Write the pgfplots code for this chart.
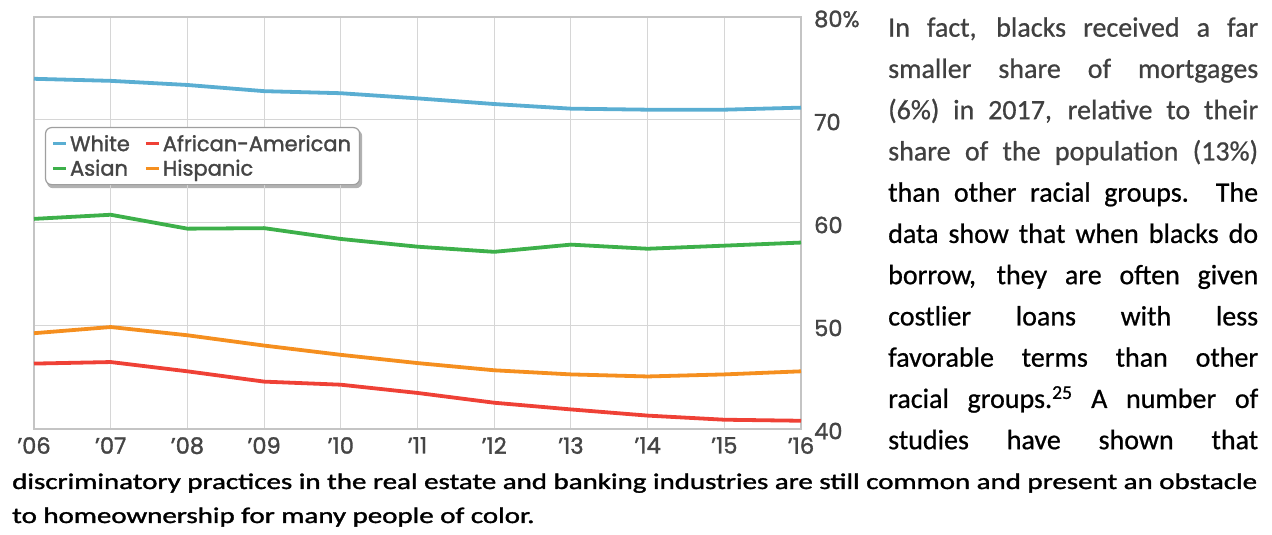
\documentclass[border=0pt]{standalone}
\usepackage{fontspec}
\setmainfont{Carlito}[FakeBold=0.7]
\newfontfamily\bottomfont{Carlito}[FakeBold=1.3]
\newfontfamily\chartfont{Poppins}[FakeBold=1.5]
\usepackage{graphicx}
\usepackage{pgfplots}
\pgfplotsset{compat=1.18}
\pgfdeclarelayer{background}
\pgfsetlayers{background,main}
\definecolor{cWhite}{HTML}{5AAED2}
\definecolor{cAA}{HTML}{EF4136}
\definecolor{cAsian}{HTML}{3DB04A}
\definecolor{cHisp}{HTML}{F58F1F}
\definecolor{gridc}{HTML}{D6D6D6}
\definecolor{framec}{HTML}{C4C4C4}
\definecolor{tickc}{HTML}{454545}
\definecolor{textgrey}{HTML}{404040}

\newsavebox\bottomA
\newdimen\tmpd
\newcommand\colline[3]{\node[anchor=base west, inner sep=0pt, text=#2] at (888pt,#1pt) {\fontsize{28}{28}\selectfont\makebox[370pt][s]{#3}};}

\begin{document}
\sbox\bottomA{\bottomfont\fontsize{28}{28}\selectfont discriminatory practices in the real estate and banking industries are still common and present an obstacle}%
\tmpd=\wd\bottomA
\pgfmathsetmacro\sx{1245/\tmpd}%
\begin{tikzpicture}
\useasboundingbox (0,0) rectangle (1272pt,535pt);
\begin{axis}[
  at={(34pt,106pt)}, anchor=south west,
  scale only axis, width=767pt, height=412pt,
  xmin=2006, xmax=2016, ymin=40, ymax=80,
  xtick={2006,2007,2008,2009,2010,2011,2012,2013,2014,2015,2016},
  xticklabels={’06,’07,’08,’09,’10,’11,’12,’13,’14,’15,’16},
  ytick={40,50,60,70,80},
  yticklabels={40,50,60,70,80\%},
  yticklabel pos=right,
  major tick length=0pt,
  grid=major,
  grid style={draw=gridc, line width=1pt},
  axis line style={draw=framec, line width=1.2pt},
  /pgf/number format/assume math mode=true,
  ticklabel style={font=\chartfont\fontsize{22.5}{22.5}\selectfont, text=tickc},
  yticklabel style={anchor=west, inner sep=0pt, xshift=13pt, yshift=-2pt},
  xticklabel style={anchor=north, inner sep=0pt, yshift=-8pt},
  legend columns=2,
  legend cell align=left,
  legend image code/.code={\draw[line width=3pt] (0pt,0pt) -- (13pt,0pt);},
  legend style={name=leg, at={(0.0143,0.733)}, anchor=north west, draw=gray!75, line width=1.2pt,
    rounded corners=6pt, fill=white,
    font=\chartfont\fontsize{21}{24}\selectfont, text=tickc,
    nodes={inner sep=2.5pt},
    inner xsep=6pt, inner ysep=5pt, row sep=2pt,
    /tikz/every even column/.append style={column sep=12pt}},
  every axis plot/.append style={line width=3.8pt, line join=round, no markers},
]
\addplot[cWhite] coordinates {(2006,74.0) (2007,73.8) (2008,73.4) (2009,72.8) (2010,72.6) (2011,72.1) (2012,71.55) (2013,71.1) (2014,71.0) (2015,71.0) (2016,71.2)};
\addlegendentry{White}
\addplot[cAA] coordinates {(2006,46.35) (2007,46.5) (2008,45.6) (2009,44.6) (2010,44.3) (2011,43.5) (2012,42.55) (2013,41.9) (2014,41.3) (2015,40.9) (2016,40.8)};
\addlegendentry{African-American}
\addplot[cAsian] coordinates {(2006,60.4) (2007,60.8) (2008,59.45) (2009,59.5) (2010,58.45) (2011,57.7) (2012,57.2) (2013,57.9) (2014,57.5) (2015,57.8) (2016,58.1)};
\addlegendentry{Asian}
\addplot[cHisp] coordinates {(2006,49.3) (2007,49.9) (2008,49.1) (2009,48.1) (2010,47.2) (2011,46.4) (2012,45.7) (2013,45.3) (2014,45.1) (2015,45.3) (2016,45.6)};
\addlegendentry{Hispanic}
\end{axis}
\begin{pgfonlayer}{background}
\fill[black!60, opacity=0.5, rounded corners=6pt] ([xshift=2pt,yshift=-3pt]leg.south west) rectangle ([xshift=2pt,yshift=-3pt]leg.north east);
\end{pgfonlayer}
\colline{498.3}{textgrey}{In fact, blacks received a far}
\colline{457.05}{textgrey}{smaller share of mortgages}
\colline{415.8}{textgrey}{(6\%) in 2017, relative to their}
\colline{374.55}{textgrey}{share of the population (13\%)}
\colline{333.3}{black}{than other racial groups.\ \ The}
\colline{292.05}{black}{data show that when blacks do}
\colline{250.8}{black}{borrow, they are often given}
\colline{209.55}{black}{costlier loans with less}
\colline{168.3}{black}{favorable terms than other}
\colline{127.05}{black}{racial groups.\textsuperscript{25} A number of}
\colline{85.8}{black}{studies have shown that}
\node[anchor=base west, inner sep=0pt] at (12pt,46pt) {\scalebox{\sx}[0.8]{\usebox\bottomA}};
\node[anchor=base west, inner sep=0pt] at (12pt,12pt) {\scalebox{\sx}[0.8]{\bottomfont\fontsize{28}{28}\selectfont to homeownership for many people of color.}};
\end{tikzpicture}
\end{document}
